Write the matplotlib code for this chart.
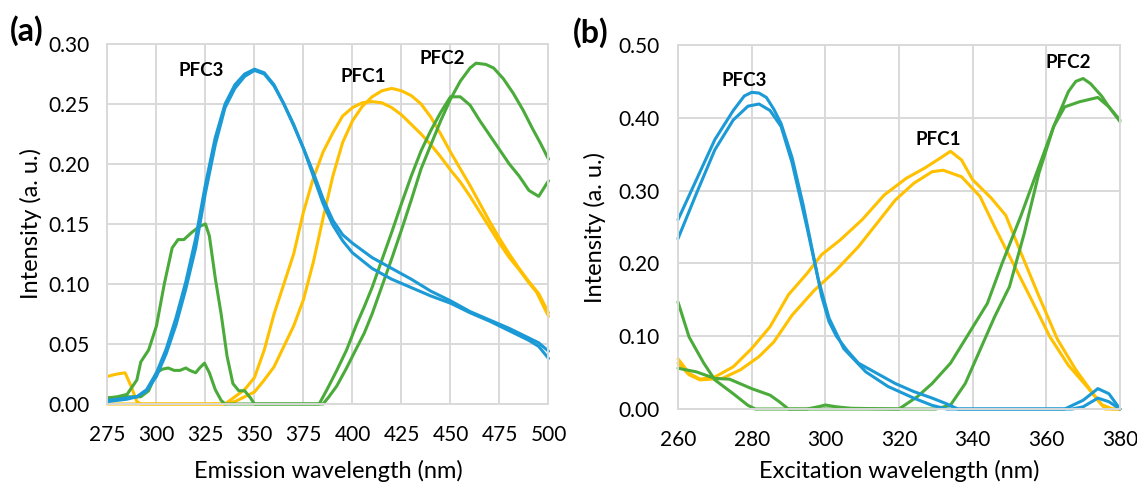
import matplotlib.pyplot as plt

# ---- (a) emission spectra ----
em_blue1_x = [275, 285, 290, 295, 300, 305, 310, 315, 320, 325, 330, 335, 340, 345, 350, 355, 360, 365, 370, 375,
              380, 385, 390, 395, 400, 410, 420, 430, 440, 450, 460, 470, 480, 490, 495, 500]
em_blue1_y = [0.002, 0.004, 0.006, 0.012, 0.026, 0.046, 0.072, 0.102, 0.138, 0.183, 0.222, 0.25, 0.266, 0.275, 0.279,
              0.276, 0.266, 0.25, 0.232, 0.213, 0.193, 0.171, 0.153, 0.141, 0.134, 0.122, 0.113, 0.104, 0.094, 0.086,
              0.077, 0.07, 0.063, 0.055, 0.051, 0.044]
em_blue2_x = [275, 285, 290, 295, 300, 305, 310, 315, 320, 325, 330, 335, 340, 345, 350, 355, 360, 365, 370, 375,
              380, 385, 390, 395, 400, 410, 420, 430, 440, 450, 460, 470, 480, 490, 495, 500]
em_blue2_y = [0.003, 0.005, 0.006, 0.011, 0.023, 0.042, 0.066, 0.096, 0.13, 0.176, 0.216, 0.247, 0.263, 0.273, 0.278,
              0.275, 0.265, 0.25, 0.233, 0.213, 0.19, 0.167, 0.149, 0.136, 0.126, 0.113, 0.104, 0.097, 0.09, 0.084,
              0.076, 0.069, 0.061, 0.053, 0.048, 0.038]

em_orange1_x = [275, 280, 284, 287, 290, 292, 335, 340, 345, 350, 355, 360, 365, 370, 375, 380, 385, 390, 395, 400,
                405, 410, 415, 420, 425, 430, 435, 440, 445, 450, 455, 460, 465, 470, 475, 480, 485, 490, 494, 500]
em_orange1_y = [0.023, 0.025, 0.026, 0.015, 0.002, 0.0, 0.0, 0.006, 0.012, 0.022, 0.045, 0.075, 0.1, 0.125, 0.16,
                0.188, 0.21, 0.226, 0.24, 0.247, 0.251, 0.252, 0.251, 0.247, 0.241, 0.233, 0.225, 0.216, 0.206, 0.195,
                0.185, 0.173, 0.16, 0.147, 0.134, 0.122, 0.112, 0.101, 0.093, 0.073]
em_orange2_x = [275, 335, 340, 345, 350, 355, 360, 365, 370, 375, 380, 385, 390, 395, 400, 405, 410, 415, 420, 425,
                430, 435, 440, 445, 450, 455, 460, 465, 470, 475, 480, 485, 490, 495, 500]
em_orange2_y = [0.0, 0.0, 0.002, 0.006, 0.01, 0.02, 0.031, 0.048, 0.065, 0.087, 0.118, 0.155, 0.19, 0.218, 0.236,
                0.248, 0.256, 0.261, 0.263, 0.261, 0.257, 0.25, 0.239, 0.225, 0.21, 0.196, 0.182, 0.167, 0.152, 0.138,
                0.125, 0.113, 0.102, 0.092, 0.076]

em_green1_x = [275, 280, 285, 290, 292, 296, 300, 304, 308, 311, 314, 318, 322, 325, 327, 330, 333, 336, 339, 342,
               345, 348, 350, 383, 387, 392, 397, 402, 406, 410, 415, 420, 425, 430, 435, 440, 445, 450, 455, 460,
               465, 470, 475, 480, 485, 490, 495, 500]
em_green1_y = [0.005, 0.006, 0.008, 0.02, 0.035, 0.045, 0.065, 0.1, 0.13, 0.137, 0.137, 0.143, 0.148, 0.15, 0.14,
               0.105, 0.075, 0.04, 0.017, 0.011, 0.011, 0.005, 0.0, 0.0, 0.012, 0.028, 0.045, 0.066, 0.081, 0.097,
               0.12, 0.143, 0.167, 0.19, 0.211, 0.228, 0.243, 0.256, 0.256, 0.249, 0.236, 0.224, 0.212, 0.2, 0.19,
               0.178, 0.173, 0.186]
em_green2_x = [275, 285, 292, 296, 300, 303, 306, 309, 312, 315, 317, 320, 322, 324.5, 327, 330, 333, 335, 385, 388,
               392, 397, 401, 406, 410, 415, 420, 425, 430, 435, 440, 445, 450, 455, 460, 463, 468, 472, 477, 482,
               487, 492, 496, 500]
em_green2_y = [0.005, 0.006, 0.006, 0.011, 0.026, 0.029, 0.03, 0.028, 0.028, 0.03, 0.028, 0.026, 0.03, 0.034, 0.026,
               0.012, 0.003, 0.0, 0.0, 0.006, 0.015, 0.03, 0.043, 0.059, 0.075, 0.098, 0.121, 0.145, 0.17, 0.196,
               0.216, 0.236, 0.254, 0.269, 0.28, 0.284, 0.283, 0.28, 0.271, 0.259, 0.245, 0.229, 0.217, 0.204]

# ---- (b) excitation spectra ----
ex_blue1_x = [260, 265, 270, 275, 278, 280, 282, 284, 286, 288, 291, 294, 297, 299, 301, 303, 306, 309, 314, 319,
              324, 329, 333, 336, 365, 370, 374, 377, 380]
ex_blue1_y = [0.26, 0.315, 0.37, 0.41, 0.43, 0.435, 0.434, 0.428, 0.412, 0.392, 0.345, 0.28, 0.205, 0.155, 0.12, 0.1,
              0.08, 0.063, 0.049, 0.035, 0.024, 0.015, 0.007, 0.0, 0.0, 0.012, 0.028, 0.021, 0.0]
ex_blue2_x = [260, 265, 270, 275, 279, 282, 285, 288, 291, 295, 298, 301, 305, 311, 317, 324, 329, 333, 367, 370,
              374, 377, 380]
ex_blue2_y = [0.234, 0.296, 0.356, 0.397, 0.416, 0.419, 0.41, 0.388, 0.338, 0.25, 0.18, 0.125, 0.083, 0.051, 0.031,
              0.015, 0.005, 0.0, 0.0, 0.003, 0.015, 0.01, 0.0]

ex_orange1_x = [260, 263, 266, 270, 275, 280, 285, 290, 295, 299, 304, 310, 316, 322, 327, 331, 334, 337, 340, 345,
                349, 353, 358, 363, 368, 373, 376, 380]
ex_orange1_y = [0.069, 0.049, 0.041, 0.044, 0.058, 0.083, 0.113, 0.157, 0.186, 0.212, 0.232, 0.26, 0.294, 0.317,
                0.331, 0.344, 0.354, 0.342, 0.315, 0.29, 0.266, 0.216, 0.155, 0.096, 0.054, 0.019, 0.0, 0.0]
ex_orange2_x = [260, 263, 266, 272, 277, 282, 286, 291, 297, 303, 309, 314, 319, 324, 329, 332, 337, 342, 346, 351,
                356, 361, 366, 371, 375, 378, 380]
ex_orange2_y = [0.063, 0.047, 0.04, 0.042, 0.054, 0.072, 0.092, 0.129, 0.163, 0.191, 0.223, 0.255, 0.287, 0.31,
                0.326, 0.328, 0.319, 0.292, 0.25, 0.2, 0.15, 0.099, 0.06, 0.031, 0.006, 0.0, 0.0]

ex_green1_x = [260, 263, 267, 270, 275, 279, 281, 295, 298, 300, 303, 307, 320, 325, 329, 334, 339, 344, 348, 353,
               358, 362, 366, 368, 370, 372, 375, 377, 380]
ex_green1_y = [0.147, 0.099, 0.063, 0.04, 0.021, 0.005, 0.0, 0.0, 0.003, 0.0055, 0.003, 0.001, 0.0, 0.017, 0.035,
               0.063, 0.104, 0.145, 0.2, 0.264, 0.333, 0.388, 0.436, 0.45, 0.454, 0.447, 0.43, 0.415, 0.395]
ex_green2_x = [260, 265, 270, 274, 280, 285, 287.5, 290, 330, 334, 338, 342, 346, 350, 354, 358, 362, 365, 369, 374,
               377, 380]
ex_green2_y = [0.056, 0.051, 0.042, 0.041, 0.028, 0.019, 0.01, 0.0, 0.0, 0.0055, 0.035, 0.081, 0.127, 0.168, 0.241,
               0.324, 0.388, 0.415, 0.422, 0.428, 0.415, 0.397]

BLUE = '#1C9AD6'
ORANGE = '#FFC000'
GREEN = '#4AAB3A'
GRID = '#d9d9d9'

plt.rcParams['font.family'] = ['Lato', 'DejaVu Sans']

fig = plt.figure(figsize=(11.37, 4.83), dpi=100)
ax1 = fig.add_axes([0.0945, 0.1636, 0.3879, 0.7453])
ax2 = fig.add_axes([0.5963, 0.1532, 0.3887, 0.7536])


def style_axes(ax, xticks, yticks, ylim, fmt, xlabel):
    ax.set_xlim(xticks[0], xticks[-1])
    ax.set_ylim(*ylim)
    ax.set_xticks(xticks)
    ax.set_yticks(yticks)
    ax.set_yticklabels([fmt.format(v) for v in yticks])
    ax.grid(True, color=GRID, linewidth=1.4)
    ax.set_axisbelow(True)
    for sp in ax.spines.values():
        sp.set_color(GRID)
        sp.set_linewidth(1.4)
    ax.tick_params(length=0, labelsize=15, colors='black')
    ax.tick_params(axis='y', pad=13)
    ax.tick_params(axis='x', pad=15)
    ax.set_xlabel(xlabel, fontsize=17)
    ax.set_ylabel('Intensity (a. u.)', fontsize=17)


lw = 2.2
kw = dict(linewidth=lw, solid_joinstyle='round', solid_capstyle='round', clip_on=False)

ax1.plot(em_orange1_x, em_orange1_y, color=ORANGE, **kw)
ax1.plot(em_orange2_x, em_orange2_y, color=ORANGE, **kw)
ax1.plot(em_green1_x, em_green1_y, color=GREEN, **kw)
ax1.plot(em_green2_x, em_green2_y, color=GREEN, **kw)
ax1.plot(em_blue1_x, em_blue1_y, color=BLUE, **kw)
ax1.plot(em_blue2_x, em_blue2_y, color=BLUE, **kw)
style_axes(ax1, list(range(275, 501, 25)), [0, 0.05, 0.10, 0.15, 0.20, 0.25, 0.30], (0, 0.30),
           '{:.2f}', 'Emission wavelength (nm)')
ax1.xaxis.set_label_coords(0.5, -0.155)
ax1.yaxis.set_label_coords(-0.148, 0.5)
ax1.text(322.9, 0.278, 'PFC3', fontsize=13.5, fontweight='bold', ha='center', va='center')
ax1.text(405.3, 0.2725, 'PFC1', fontsize=13.5, fontweight='bold', ha='center', va='center')
ax1.text(445.8, 0.288, 'PFC2', fontsize=13.5, fontweight='bold', ha='center', va='center')

ax2.plot(ex_orange1_x, ex_orange1_y, color=ORANGE, **kw)
ax2.plot(ex_orange2_x, ex_orange2_y, color=ORANGE, **kw)
ax2.plot(ex_green1_x, ex_green1_y, color=GREEN, **kw)
ax2.plot(ex_green2_x, ex_green2_y, color=GREEN, **kw)
ax2.plot(ex_blue1_x, ex_blue1_y, color=BLUE, **kw)
ax2.plot(ex_blue2_x, ex_blue2_y, color=BLUE, **kw)
style_axes(ax2, list(range(260, 381, 20)), [0, 0.10, 0.20, 0.30, 0.40, 0.50], (0, 0.50),
           '{:.2f}', 'Excitation wavelength (nm)')
ax2.xaxis.set_label_coords(0.5, -0.14)
ax2.yaxis.set_label_coords(-0.162, 0.5)
ax2.text(277.9, 0.451, 'PFC3', fontsize=13.5, fontweight='bold', ha='center', va='center')
ax2.text(330.7, 0.370, 'PFC1', fontsize=13.5, fontweight='bold', ha='center', va='center')
ax2.text(366.0, 0.476, 'PFC2', fontsize=13.5, fontweight='bold', ha='center', va='center')

fig.text(27 / 1137, 1 - 31 / 483, '(a)', fontsize=23, fontweight='bold', ha='center', va='center')
fig.text(591 / 1137, 1 - 33 / 483, '(b)', fontsize=23, fontweight='bold', ha='center', va='center')

fig.savefig('out.png', dpi=100)
